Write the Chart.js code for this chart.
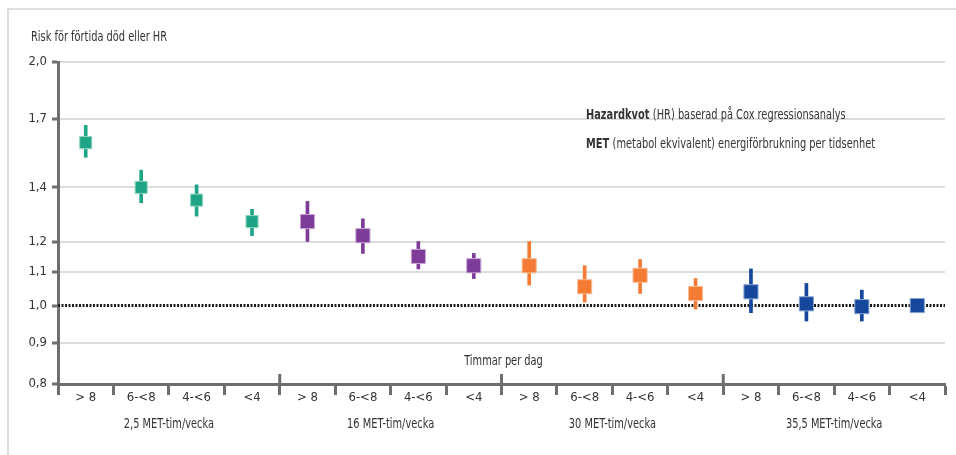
<!DOCTYPE html>
<html>
<head>
<meta charset="utf-8">
<script src="https://cdn.jsdelivr.net/npm/chart.js@4/dist/chart.umd.min.js"></script>
<style>
    html, body { margin: 0; padding: 0; background: #fff; }
    #wrap { position: relative; width: 956px; height: 455px; }
    #frame { position: absolute; left: 7px; top: 8px; right: -4px; bottom: -4px; border: 2px solid #dedede; box-sizing: border-box; }
    canvas { position: absolute; left: 0; top: 0; }
</style>
</head>
<body>
<div id="wrap">
    <div id="frame"></div>
    <canvas id="hrChart" width="956" height="455"></canvas>
</div>
<script>
const categories = ['> 8', '6-<8', '4-<6', '<4', '> 8', '6-<8', '4-<6', '<4', '> 8', '6-<8', '4-<6', '<4', '> 8', '6-<8', '4-<6', '<4'];
const groups = ['2,5 MET-tim/vecka', '16 MET-tim/vecka', '30 MET-tim/vecka', '35,5 MET-tim/vecka'];
const hrValues = [1.59, 1.40, 1.35, 1.27, 1.27, 1.22, 1.15, 1.12, 1.12, 1.055, 1.09, 1.035, 1.04, 1.005, 0.997, 1.0];
const ciLow = [1.525, 1.34, 1.29, 1.22, 1.20, 1.16, 1.11, 1.08, 1.06, 1.01, 1.035, 0.99, 0.98, 0.957, 0.957, null];
const ciHigh = [1.67, 1.47, 1.41, 1.315, 1.345, 1.28, 1.20, 1.16, 1.20, 1.12, 1.14, 1.08, 1.11, 1.065, 1.045, null];
const yTicks = [0.8, 0.9, 1.0, 1.1, 1.2, 1.4, 1.7, 2.0];

const groupColors = ['#1fa585', '#7c3c97', '#f47b33', '#15489c'];
const groupBorders = ['#8fd3c1', '#c9a6d6', '#fbbd97', '#8aa6d4'];
const pointColors = categories.map((c, i) => groupColors[Math.floor(i / 4)]);
const pointBorders = categories.map((c, i) => groupBorders[Math.floor(i / 4)]);
const pointSizes = categories.map((c, i) => i < 4 ? 8.5 : 10);

const FONT = '"DejaVu Sans Condensed", "DejaVu Sans", sans-serif';
const TEXT = '#333333';
const AXIS = '#6e6e6e';
const SQUEEZE = 0.78;

// text drawn narrower, like the condensed face of the original
function narrowText(ctx, str, x, y, bold) {
    ctx.font = (bold ? 'bold ' : '') + '14px ' + FONT;
    ctx.save();
    ctx.translate(x, y);
    ctx.scale(SQUEEZE, 1);
    ctx.fillText(str, 0, 0);
    ctx.restore();
    return ctx.measureText(str).width * SQUEEZE;
}

const extras = {
    id: 'extras',
    beforeDatasetsDraw(chart) {
        const { ctx, chartArea, scales } = chart;
        const y1 = scales.y.getPixelForValue(1);
        ctx.save();
        ctx.strokeStyle = '#1a1a1a';
        ctx.lineWidth = 3;
        ctx.setLineDash([2, 1.5]);
        ctx.beginPath();
        ctx.moveTo(chartArea.left, y1);
        ctx.lineTo(chartArea.right, y1);
        ctx.stroke();
        ctx.restore();
    },
    afterDraw(chart) {
        const { ctx, chartArea, scales } = chart;
        const x = scales.x;
        const step = x.getPixelForValue(1) - x.getPixelForValue(0);
        ctx.save();
        ctx.strokeStyle = AXIS;
        ctx.lineWidth = 3;
        for (let g = 1; g < groups.length; g++) {
            const px = x.getPixelForValue(g * 4) - step / 2;
            ctx.beginPath();
            ctx.moveTo(px, chartArea.bottom - 10);
            ctx.lineTo(px, chartArea.bottom);
            ctx.stroke();
        }
        ctx.fillStyle = TEXT;
        ctx.textAlign = 'center';
        ctx.textBaseline = 'middle';
        groups.forEach((g, i) => {
            const px = (x.getPixelForValue(i * 4) + x.getPixelForValue(i * 4 + 3)) / 2;
            narrowText(ctx, g, px, chartArea.bottom + 40);
        });
        narrowText(ctx, 'Timmar per dag', (chartArea.left + chartArea.right) / 2 + 2, chartArea.bottom - 23);

        ctx.textAlign = 'left';
        narrowText(ctx, 'Risk för förtida död eller HR', 31, 37);

        let w = narrowText(ctx, 'Hazardkvot ', 586, 115, true);
        narrowText(ctx, '(HR) baserad på Cox regressionsanalys', 586 + w, 115);
        w = narrowText(ctx, 'MET ', 586, 144, true);
        narrowText(ctx, '(metabol ekvivalent) energiförbrukning per tidsenhet', 586 + w, 144);
        ctx.restore();
    }
};

new Chart(document.getElementById('hrChart'), {
    data: {
        labels: categories,
        datasets: [
            {
                type: 'scatter',
                data: hrValues.map((v, i) => ({ x: i, y: v })),
                pointStyle: 'rect',
                pointRadius: pointSizes,
                pointHoverRadius: pointSizes,
                backgroundColor: pointColors,
                borderColor: pointBorders,
                borderWidth: 1,
                order: 0
            },
            {
                type: 'bar',
                data: ciLow.map((v, i) => v === null ? null : [v, ciHigh[i]]),
                backgroundColor: pointColors,
                barThickness: 3,
                order: 1
            }
        ]
    },
    options: {
        responsive: false,
        animation: false,
        layout: { padding: { top: 62, right: 4, left: 0, bottom: 0 } },
        plugins: { legend: { display: false }, tooltip: { enabled: false } },
        scales: {
            x: {
                type: 'category',
                offset: true,
                afterFit(scale) { scale.height = 71; },
                grid: { drawOnChartArea: false, offset: true, tickLength: 11, tickWidth: 3, tickColor: AXIS },
                border: { color: AXIS, width: 3 },
                ticks: { color: TEXT, font: { family: FONT, size: 13 }, padding: -5, maxRotation: 0, autoSkip: false }
            },
            y: {
                type: 'logarithmic',
                min: 0.8,
                max: 2.0,
                afterFit(scale) { scale.width = 58; },
                afterBuildTicks(scale) { scale.ticks = yTicks.map(v => ({ value: v })); },
                grid: {
                    color: ctx => (ctx.tick && (ctx.tick.value === 1 || ctx.tick.value === 0.8)) ? 'rgba(0,0,0,0)' : '#dcdcdc',
                    lineWidth: 2,
                    tickLength: 6,
                    tickWidth: 3,
                    tickColor: AXIS
                },
                border: { color: AXIS, width: 3 },
                ticks: {
                    color: TEXT,
                    font: { family: FONT, size: 13 },
                    padding: 5,
                    autoSkip: false,
                    callback: v => v.toFixed(1).replace('.', ',')
                }
            }
        }
    },
    plugins: [extras]
});
</script>
</body>
</html>
